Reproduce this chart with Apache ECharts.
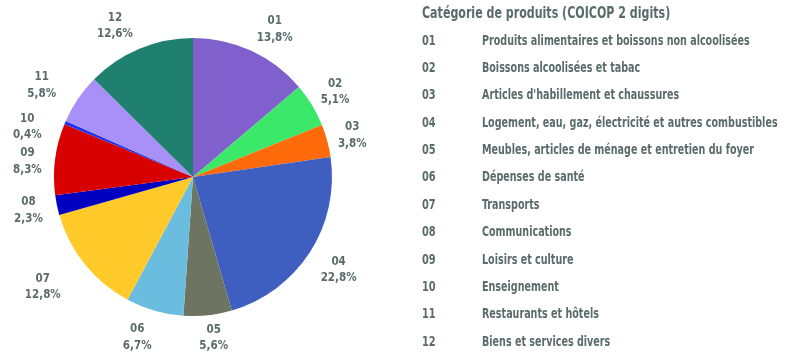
<!DOCTYPE html>
<html>
<head>
<meta charset="utf-8">
<script src="https://cdn.jsdelivr.net/npm/echarts@6/dist/echarts.min.js"></script>
<style>html,body{margin:0;padding:0;background:#fff}#c{width:800px;height:358px}</style>
</head>
<body>
<div id="c"></div>
<script>
var codes = ['01','02','03','04','05','06','07','08','09','10','11','12'];
var labels = [
  'Produits alimentaires et boissons non alcoolisées',
  'Boissons alcoolisées et tabac',
  "Articles d'habillement et chaussures",
  'Logement, eau, gaz, électricité et autres combustibles',
  'Meubles, articles de ménage et entretien du foyer',
  'Dépenses de santé',
  'Transports',
  'Communications',
  'Loisirs et culture',
  'Enseignement',
  'Restaurants et hôtels',
  'Biens et services divers'
];
var values = [13.8, 5.1, 3.8, 22.8, 5.6, 6.7, 12.8, 2.3, 8.3, 0.4, 5.8, 12.6];
var colors = ['#8060CC','#3BE86A','#FF6A0A','#3F5FC0','#6E7462','#6BBDE0','#FFCA2A','#0000C0','#D90000','#2233EE','#A890F8','#1F8070'];
var legendTitle = 'Catégorie de produits (COICOP 2 digits)';

var FONT = '"DejaVu Sans Condensed", sans-serif';
var TXT = '#5a6b6b';

// small label nudges (pixels) to mimic the reference's label placement
var labelNudge = {
  '01': [12, 3], '02': [0, 1], '03': [-1, 2], '04': [6, 3], '05': [3, -4], '06': [-10, 1], '07': [-21, 6],
  '08': [-2, 0], '09': [-1, 6], '10': [-13, 15], '11': [-14, 2], '12': [-14, 2]
};

var data = codes.map(function (c, i) {
  return { name: c, value: values[i], itemStyle: { color: colors[i] } };
});
var labelData = codes.map(function (c, i) {
  var d = { name: c, value: values[i] };
  if (labelNudge[c]) d.label = { offset: labelNudge[c] };
  return d;
});

var graphics = [{
  type: 'text', left: 422, top: 7, scaleX: 0.82, silent: true,
  style: { text: legendTitle, font: 'bold 15px ' + FONT, fill: TXT }
}];
codes.forEach(function (c, i) {
  var y = 41 + i * 27.36;
  graphics.push({
    type: 'text', x: 422, y: y, scaleX: 0.78, silent: true,
    style: { text: c, font: 'bold 14px ' + FONT, fill: TXT, verticalAlign: 'middle' }
  });
  graphics.push({
    type: 'text', x: 482, y: y, scaleX: 0.76, silent: true,
    style: { text: labels[i], font: 'bold 14px ' + FONT, fill: TXT, verticalAlign: 'middle' }
  });
});

var chart = echarts.init(document.getElementById('c'));
chart.setOption({
  animation: false,
  graphic: graphics,
  series: [
    {
      type: 'pie',
      center: [193, 177],
      radius: 139,
      startAngle: 90,
      clockwise: true,
      silent: true,
      label: { show: false },
      labelLine: { show: false },
      itemStyle: { borderWidth: 0 },
      data: data
    },
    {
      type: 'pie',
      center: [193, 177],
      radius: [139, 187],
      startAngle: 90,
      clockwise: true,
      silent: true,
      avoidLabelOverlap: false,
      itemStyle: { color: 'rgba(0,0,0,0)', borderWidth: 0 },
      label: {
        show: true,
        position: 'inside',
        fontFamily: FONT, fontWeight: 'bold', fontSize: 11.5, color: TXT,
        lineHeight: 16.5,
        formatter: function (p) {
          return p.name + '\n' + p.value.toFixed(1).replace('.', ',') + '%';
        }
      },
      labelLine: { show: false },
      data: labelData
    }
  ]
});
</script>
</body>
</html>
